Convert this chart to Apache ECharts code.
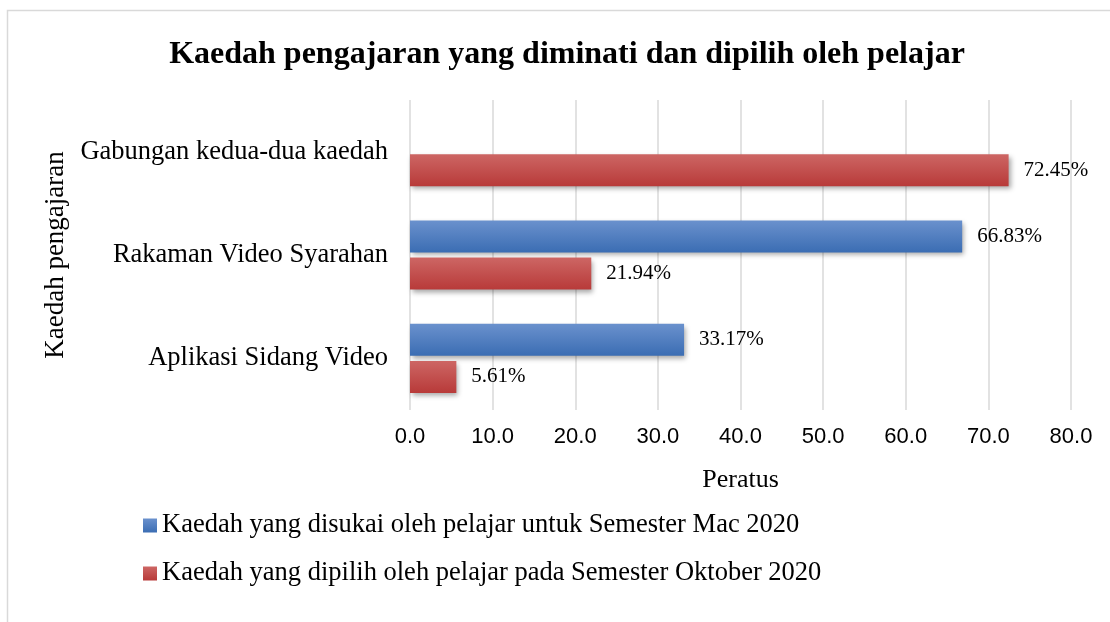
<!DOCTYPE html>
<html>
<head>
<meta charset="utf-8">
<title>Kaedah pengajaran</title>
<script src="https://cdn.jsdelivr.net/npm/echarts@6/dist/echarts.min.js"></script>
<style>
    html, body { margin: 0; padding: 0; background: #fff; }
    #chart { width: 1110px; height: 622px; }
</style>
</head>
<body>
<div id="chart"></div>
<script>
// data
const categories = ['Aplikasi Sidang Video', 'Rakaman Video Syarahan', 'Gabungan kedua-dua kaedah'];
const mac2020 = [33.17, 66.83, null];
const oktober2020 = [5.61, 21.94, 72.45];
const seriesNames = [
    'Kaedah yang disukai oleh pelajar untuk Semester Mac 2020',
    'Kaedah yang dipilih oleh pelajar pada Semester Oktober 2020'
];
const xTicks = [0, 10, 20, 30, 40, 50, 60, 70, 80];

const serif = '"Liberation Serif", "Times New Roman", serif';
const sans = '"Liberation Sans", Arial, sans-serif';

const chartDom = document.getElementById('chart');
const chart = echarts.init(chartDom);

function grad(top, bottom) {
    return new echarts.graphic.LinearGradient(0, 0, 0, 1, [
        { offset: 0, color: top },
        { offset: 1, color: bottom }
    ]);
}

const barLabel = {
    show: true,
    position: 'right',
    distance: 15,
    color: '#000',
    fontFamily: serif,
    fontSize: 21,
    formatter: p => p.value.toFixed(2) + '%'
};

const option = {
    animation: false,
    title: {
        text: 'Kaedah pengajaran yang diminati dan dipilih oleh pelajar',
        left: 562,
        textAlign: 'center',
        top: 34,
        textStyle: { fontFamily: serif, fontWeight: 'bold', fontSize: 32, color: '#000' }
    },
    // outer chart frame (only top and left edges fall inside the view)
    graphic: [{
        type: 'rect',
        shape: { x: 7.5, y: 10.5, width: 1200, height: 700 },
        style: { fill: null, stroke: '#d9d9d9', lineWidth: 1.5 },
        silent: true,
        z: -1
    }],
    legend: {
        orient: 'vertical',
        left: 138,
        top: 507,
        itemGap: 21,
        itemWidth: 14,
        itemHeight: 14,
        icon: 'rect',
        textStyle: { fontFamily: serif, fontSize: 26.5, color: '#000' },
        data: seriesNames
    },
    grid: { left: 410, right: 39, top: 100, bottom: 212 },
    xAxis: {
        type: 'value',
        min: 0,
        max: 80,
        interval: 10,
        name: 'Peratus',
        nameLocation: 'middle',
        nameGap: 57,
        nameTextStyle: { fontFamily: serif, fontSize: 26, color: '#000' },
        axisLine: { show: false },
        axisTick: { show: false },
        axisLabel: {
            margin: 16,
            fontFamily: sans,
            fontSize: 22,
            color: '#000',
            formatter: v => xTicks.includes(v) ? v.toFixed(1) : ''
        },
        splitLine: { show: true, lineStyle: { color: '#d9d9d9', width: 1.5 } }
    },
    yAxis: {
        type: 'category',
        data: categories,
        name: 'Kaedah pengajaran',
        nameLocation: 'middle',
        nameGap: 321,
        nameRotate: 90,
        nameTextStyle: { fontFamily: serif, fontSize: 27, color: '#000' },
        axisLine: { show: false },
        axisTick: { show: false },
        axisLabel: {
            margin: 22,
            fontFamily: serif,
            fontSize: 26.5,
            color: '#000',
            padding: [9, 0, 0, 0]
        }
    },
    series: [
        {
            name: seriesNames[0],
            type: 'bar',
            data: mac2020,
            barWidth: 32,
            barGap: '16%',
            itemStyle: {
                color: grad('#6a91cd', '#3b6db3'),
                shadowColor: 'rgba(0,0,0,0.35)',
                shadowBlur: 5,
                shadowOffsetX: 2,
                shadowOffsetY: 3
            },
            label: barLabel
        },
        {
            name: seriesNames[1],
            type: 'bar',
            data: oktober2020,
            barWidth: 32,
            itemStyle: {
                color: grad('#cd6664', '#b83a39'),
                shadowColor: 'rgba(0,0,0,0.35)',
                shadowBlur: 5,
                shadowOffsetX: 2,
                shadowOffsetY: 3
            },
            label: barLabel
        }
    ]
};

option && chart.setOption(option);
</script>
</body>
</html>
